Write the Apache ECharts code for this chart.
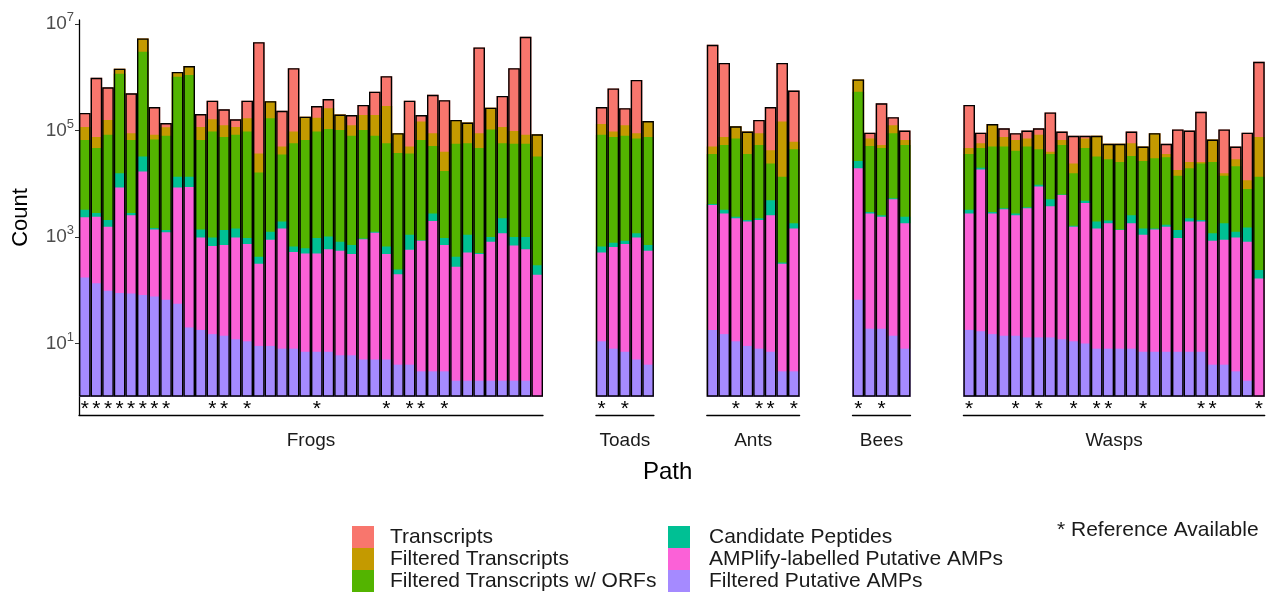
<!DOCTYPE html>
<html>
<head>
<meta charset="utf-8">
<script src="https://cdn.jsdelivr.net/npm/echarts@6/dist/echarts.min.js"></script>
<style>
  html, body { margin: 0; padding: 0; background: #fff; }
  #main { width: 1266px; height: 595px; }
</style>
</head>
<body>
<div id="main"></div>
<script>
// facets, in order, and how many bars each one holds
const groups = ['Frogs', 'Toads', 'Ants', 'Bees', 'Wasps'];
const groupSizes = [40, 5, 8, 5, 26];

const seriesNames = ['Transcripts', 'Filtered Transcripts', 'Filtered Transcripts w/ ORFs',
  'Candidate Peptides', 'AMPlify-labelled Putative AMPs', 'Filtered Putative AMPs'];
const colors = ['#F8766D', '#C49A00', '#53B400', '#00C094', '#FB61D7', '#A58AFF'];

// counts per bar (Frogs 40 | Toads 5 | Ants 8 | Bees 5 | Wasps 26)
const transcripts = [
  214000, 977000, 646000, 1450000, 500000, 5370000, 275000, 138000, 1260000, 1620000,
  204000, 363000, 251000, 162000, 363000, 4570000, 355000, 234000, 1480000, 182000,
  288000, 389000, 200000, 195000, 302000, 537000, 1050000, 89100, 363000, 195000,
  468000, 372000, 158000, 141000, 3630000, 269000, 447000, 1480000, 5750000, 85100,
  275000, 617000, 263000, 891000, 151000,
  4070000, 1860000, 120000, 95500, 158000, 275000, 1860000, 562000,
  912000, 91200, 324000, 178000, 100000,
  302000, 91200, 132000, 110000, 89100, 100000, 110000, 219000, 95500, 79400,
  79400, 79400, 56200, 56200, 95500, 50100, 89100, 56200, 105000, 100000,
  224000, 67600, 105000, 50100, 91200, 1950000
];
const filteredTranscripts = [
  117000, 75900, 158000, 1450000, 89100, 5370000, 83200, 115000, 1260000, 1620000,
  117000, 162000, 126000, 117000, 170000, 37200, 355000, 50100, 95500, 182000,
  174000, 263000, 200000, 126000, 195000, 195000, 288000, 89100, 50100, 148000,
  89100, 39800, 158000, 141000, 89100, 269000, 117000, 97700, 83200, 85100,
  132000, 95500, 126000, 89100, 151000,
  50100, 75900, 120000, 95500, 89100, 42700, 148000, 61700,
  912000, 70800, 53700, 126000, 66100,
  46800, 57500, 132000, 75900, 66100, 70800, 83200, 39800, 66100, 24000,
  70800, 79400, 56200, 56200, 57500, 50100, 89100, 36300, 18200, 25700,
  25700, 67600, 15800, 28800, 11700, 75900
];
const orfTranscripts = [
  66100, 46800, 83200, 1170000, 66100, 3020000, 67600, 79400, 1020000, 1100000,
  66100, 95500, 75900, 83200, 95500, 16200, 170000, 35500, 57500, 66100,
  95500, 107000, 102000, 79400, 102000, 79400, 57500, 38000, 37200, 66100,
  51300, 17400, 56200, 57500, 46800, 105000, 57500, 56200, 56200, 32400,
  83200, 75900, 79400, 70800, 75900,
  36300, 53700, 70800, 36300, 53700, 24000, 13500, 44700,
  537000, 51300, 46800, 89100, 53700,
  36300, 46800, 50100, 50100, 41700, 50100, 44700, 36300, 53700, 15800,
  46800, 32400, 28800, 25700, 33100, 26900, 30200, 31600, 14100, 19500,
  24000, 25700, 14100, 21400, 7940, 13500
];
const candidatePeptides = [
  3240, 2820, 2090, 15800, 2820, 32400, 1480, 1350, 13500, 13500,
  1380, 977, 1350, 1450, 955, 427, 1260, 1950, 661, 617,
  955, 1020, 813, 708, 933, 1260, 661, 245, 1100, 870,
  2750, 955, 427, 1100, 501, 1000, 2240, 1000, 1000, 295,
  661, 776, 851, 1170, 708,
  4170, 3240, 2400, 2090, 2240, 4900, 331, 1820,
  26900, 2950, 2570, 5370, 2400,
  3240, 20000, 2950, 3470, 2750, 3630, 9550, 5130, 6310, 1620,
  4790, 1950, 2040, 1380, 2570, 1450, 1450, 1700, 1350, 2240,
  2090, 1170, 1820, 1260, 1510, 240
];
const amplifyAMPs = [
  2340, 2400, 1550, 8510, 2570, 17000, 1380, 1230, 8510, 8710,
  977, 676, 708, 977, 741, 316, 891, 1450, 525, 490,
  490, 589, 550, 479, 912, 1200, 479, 200, 575, 851,
  2000, 708, 275, 513, 479, 813, 1170, 692, 589, 195,
  513, 646, 741, 977, 550,
  3980, 2750, 2240, 1950, 2090, 2570, 316, 1450,
  19500, 2750, 2400, 5130, 1820,
  2750, 18600, 2750, 3310, 2570, 3470, 8910, 3800, 6170, 1550,
  4370, 1450, 1820, 1350, 1820, 1100, 1380, 1550, 955, 1950,
  1950, 851, 891, 977, 813, 166
];
const filteredAMPs = [
  174, 135, 98, 89, 87, 81, 76, 66, 56, 20,
  18, 15, 14, 12, 11, 9, 9, 8, 8, 7,
  7, 7, 6, 6, 5, 5, 5, 4, 4, 3,
  3, 3, 2, 2, 2, 2, 2, 2, 2, null,
  11, 8, 7, 5, 4,
  18, 15, 11, 9, 8, 7, 3, 3,
  66, 19, 19, 14, 8,
  18, 17, 15, 14, 14, 13, 13, 13, 12, 11,
  10, 8, 8, 8, 8, 7, 7, 7, 7, 7,
  7, 4, 4, 3, 2, null
];

// bars with a reference available (index inside each facet)
const refAvailable = [
  [0, 1, 2, 3, 4, 5, 6, 7, 11, 12, 14, 20, 26, 28, 29, 31],
  [0, 2],
  [2, 4, 5, 7],
  [0, 2],
  [0, 4, 6, 9, 11, 12, 15, 20, 21, 25]
];

const yTicks = [10, 1000, 100000, 10000000];

const FONT = '"Liberation Sans", Arial, sans-serif';
const barW = 11.6;
const gap = 52.9;
const columns = [transcripts, filteredTranscripts, orfTranscripts, candidatePeptides, amplifyAMPs, filteredAMPs];

const grids = [], xAxes = [], yAxes = [], series = [];
let start = 0, left = 79;
groups.forEach((g, gi) => {
  const n = groupSizes[gi];
  const ids = [];
  for (let i = 0; i < n; i++) ids.push(g + ' ' + (i + 1));
  grids.push({ left: left, top: 20, width: n * barW, height: 395 });
  xAxes.push({
    type: 'category', gridIndex: gi, data: ids,
    name: g, nameLocation: 'middle', nameGap: 16,
    nameTextStyle: { fontSize: 19, color: '#1a1a1a', fontFamily: FONT },
    axisLine: { lineStyle: { color: '#000', width: 1.3 } },
    axisTick: { show: false },
    axisLabel: {
      inside: true, interval: 0, margin: -5, fontSize: 21, color: '#000', fontFamily: FONT,
      formatter: (v, i) => refAvailable[gi].indexOf(i) >= 0 ? '*' : ''
    }
  });
  const y = {
    type: 'log', gridIndex: gi, logBase: 10, min: 0.454, max: 11900000,
    splitLine: { show: false }
  };
  if (gi === 0) {
    Object.assign(y, {
      name: 'Count', nameLocation: 'middle', nameGap: 47,
      nameTextStyle: { fontSize: 22, color: '#000', fontFamily: FONT },
      axisLine: { show: true, lineStyle: { color: '#000', width: 1.3 } },
      axisTick: { show: true, length: 4, lineStyle: { color: '#333' }, customValues: yTicks },
      axisLabel: {
        margin: 5, customValues: yTicks,
        formatter: v => '{b|10}{e|' + Math.round(Math.log10(v)) + '}',
        rich: {
          b: { fontSize: 19, color: '#4d4d4d', fontFamily: FONT, lineHeight: 26 },
          e: { fontSize: 13, color: '#4d4d4d', fontFamily: FONT, verticalAlign: 'top' }
        }
      }
    });
  } else {
    y.show = false;
  }
  yAxes.push(y);
  columns.forEach((arr, si) => {
    series.push({
      type: 'bar', name: seriesNames[si], xAxisIndex: gi, yAxisIndex: gi,
      data: arr.slice(start, start + n),
      itemStyle: { color: colors[si] },
      barGap: '-100%', barCategoryGap: '0%', silent: true
    });
  });
  // black outline round the full bar
  series.push({
    type: 'bar', name: 'outline', xAxisIndex: gi, yAxisIndex: gi,
    data: transcripts.slice(start, start + n),
    itemStyle: { color: 'rgba(0,0,0,0)', borderColor: '#000', borderWidth: 1.4 },
    barGap: '-100%', barCategoryGap: '0%', silent: true
  });
  start += n;
  left += n * barW + gap;
});

const legendBase = {
  orient: 'vertical', top: 526, height: 69, padding: 0,
  itemWidth: 22, itemHeight: 22, itemGap: 0,
  icon: 'rect', selectedMode: false,
  textStyle: { fontSize: 21, color: '#1a1a1a', fontFamily: FONT, padding: [0, 0, 0, 11] }
};

const chart = echarts.init(document.getElementById('main'));
chart.setOption({
  animation: false,
  backgroundColor: '#fff',
  title: [
    { text: 'Path', left: 643, top: 460, padding: 0, textStyle: { fontSize: 24, fontWeight: 'normal', color: '#000', fontFamily: FONT } },
    { text: '* Reference Available', left: 1057, top: 520, padding: 0, textStyle: { fontSize: 21, fontWeight: 'normal', color: '#1a1a1a', fontFamily: FONT } }
  ],
  legend: [
    Object.assign({}, legendBase, { left: 352, data: seriesNames.slice(0, 3) }),
    Object.assign({}, legendBase, { left: 668, data: seriesNames.slice(3),
      textStyle: Object.assign({}, legendBase.textStyle, { padding: [0, 0, 0, 14] }) })
  ],
  grid: grids,
  xAxis: xAxes,
  yAxis: yAxes,
  series: series
});
</script>
</body>
</html>
